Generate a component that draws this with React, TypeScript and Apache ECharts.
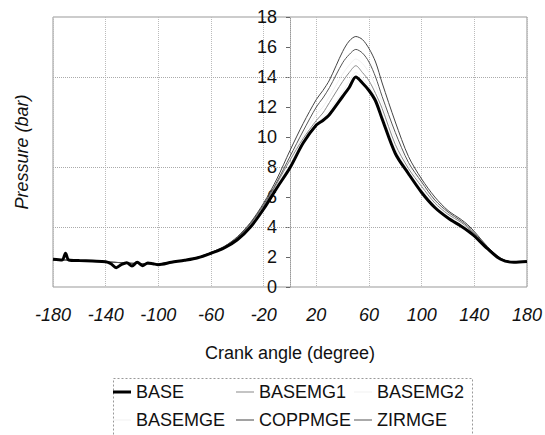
import React, { useEffect, useRef } from "react";
import * as echarts from "echarts";

const angles = [-180, -173, -170.5, -168, -160, -150, -140, -136, -132, -128, -124, -120, -116, -112, -108, -104, -100, -90, -80, -70, -60, -50, -40, -30, -20, -10, 0, 10, 20, 25, 30, 40, 45, 50, 55, 60, 65, 70, 80, 90, 100, 110, 120, 130, 135, 140, 150, 160, 170, 180];

const baseVals = [1.85, 1.8, 2.25, 1.8, 1.76, 1.73, 1.69, 1.55, 1.29, 1.5, 1.62, 1.4, 1.65, 1.42, 1.6, 1.55, 1.49, 1.65, 1.78, 1.95, 2.25, 2.6, 3.15, 4.0, 5.2, 6.6, 7.95, 9.6, 10.8, 11.1, 11.5, 12.7, 13.3, 14.0, 13.6, 13.1, 12.4, 11.2, 8.9, 7.55, 6.3, 5.3, 4.6, 4.05, 3.75, 3.4, 2.55, 1.85, 1.65, 1.7];
const basemg1Vals = [1.82, 1.8, 1.8, 1.79, 1.76, 1.72, 1.68, 1.66, 1.64, 1.62, 1.6, 1.58, 1.57, 1.56, 1.55, 1.55, 1.55, 1.64, 1.8, 1.98, 2.25, 2.65, 3.25, 4.2, 5.4, 6.9, 8.45, 9.9, 11.1, 11.6, 12.3, 13.7, 14.3, 14.75, 14.3, 13.75, 12.9, 11.9, 9.5, 7.9, 6.7, 5.6, 4.85, 4.3, 3.95, 3.5, 2.6, 1.88, 1.65, 1.7];
const basemg2Vals = [1.82, 1.8, 1.8, 1.79, 1.76, 1.72, 1.68, 1.66, 1.64, 1.62, 1.6, 1.58, 1.57, 1.56, 1.55, 1.55, 1.55, 1.64, 1.8, 1.97, 2.24, 2.62, 3.2, 4.1, 5.3, 6.75, 8.2, 9.7, 10.9, 11.3, 11.8, 13.0, 13.7, 14.3, 13.9, 13.4, 12.6, 11.5, 9.2, 7.7, 6.5, 5.45, 4.7, 4.15, 3.85, 3.45, 2.57, 1.86, 1.65, 1.7];
const basemgeVals = [1.82, 1.8, 1.8, 1.79, 1.76, 1.72, 1.68, 1.66, 1.64, 1.62, 1.6, 1.58, 1.57, 1.56, 1.55, 1.55, 1.55, 1.64, 1.8, 1.98, 2.27, 2.68, 3.3, 4.22, 5.45, 6.95, 8.55, 10.1, 11.5, 12.0, 12.7, 14.2, 14.8, 15.2, 14.9, 14.3, 13.4, 12.3, 9.9, 8.1, 6.85, 5.7, 4.92, 4.35, 4.0, 3.55, 2.62, 1.9, 1.65, 1.7];
const coppmgeVals = [1.82, 1.8, 1.8, 1.79, 1.76, 1.72, 1.68, 1.66, 1.64, 1.62, 1.6, 1.58, 1.57, 1.56, 1.55, 1.55, 1.55, 1.64, 1.8, 1.98, 2.3, 2.7, 3.35, 4.3, 5.6, 7.2, 9.1, 10.9, 12.5, 13.1, 13.8, 15.7, 16.4, 16.7, 16.5, 15.9, 15.0, 13.6, 11.0, 8.7, 7.2, 6.0, 5.1, 4.5, 4.15, 3.7, 2.7, 1.92, 1.65, 1.7];
const zirmgeVals = [1.82, 1.8, 1.8, 1.79, 1.76, 1.72, 1.68, 1.66, 1.64, 1.62, 1.6, 1.58, 1.57, 1.56, 1.55, 1.55, 1.55, 1.64, 1.8, 1.98, 2.3, 2.7, 3.3, 4.25, 5.5, 7.0, 8.7, 10.4, 12.0, 12.6, 13.3, 14.95, 15.5, 15.84, 15.6, 15.0, 14.0, 12.7, 10.3, 8.3, 7.0, 5.8, 5.0, 4.4, 4.05, 3.6, 2.65, 1.9, 1.65, 1.7];

const hGridValues = [4, 8, 14];

const FONT = "'Liberation Sans', Arial, sans-serif";

export default function App() {
  const ref = useRef<HTMLDivElement>(null);
  useEffect(() => {
    if (!ref.current) return;
    const chart = echarts.init(ref.current, undefined, { renderer: "svg" });
    const pairs = (vals: number[]) => angles.map((a, i) => [a, vals[i]]);
    const mk = (name: string, vals: number[], color: string, width: number, z: number) => ({
      name,
      type: "line",
      data: pairs(vals),
      symbol: "none",
      smooth: 0.3,
      z,
      lineStyle: { color, width },
      itemStyle: { color },
    });
    const baseSeries: any = mk("BASE", baseVals, "#000", 3, 5);
    baseSeries.markLine = {
      silent: true,
      symbol: "none",
      label: { show: false },
      lineStyle: { color: "#aaa", type: "dotted", width: 1 },
      data: hGridValues.map((v) => ({ yAxis: v })),
      z: 1,
    };
    const legendPos: Array<[string, number, number, number]> = [
      ["BASE", 113, 383, 3],
      ["BASEMG1", 236, 383, 1],
      ["BASEMG2", 354, 383, 1],
      ["BASEMGE", 113, 411, 1],
      ["COPPMGE", 236, 411, 1],
      ["ZIRMGE", 354, 411, 1],
    ];
    chart.setOption({
      animation: false,
      textStyle: { fontFamily: FONT },
      grid: {
        left: 53,
        top: 17,
        width: 474,
        height: 270,
        show: true,
        borderColor: "#999",
        borderWidth: 1,
      },
      legend: legendPos.map(([n, l, t, h]) => ({
        data: [n],
        left: l,
        top: t,
        icon: "rect",
        itemWidth: 18,
        itemHeight: h,
        padding: 0,
        textStyle: { fontFamily: FONT, fontSize: 18, color: "#111" },
      })),
      graphic: [
        {
          type: "rect",
          left: 111,
          top: 376,
          shape: { width: 359, height: 57 },
          style: { fill: "none", stroke: "#999", lineWidth: 1, lineDash: [2, 2] },
          z: 0,
        },
        {
          type: "text",
          x: 22,
          y: 152,
          rotation: Math.PI / 2,
          style: {
            text: "Pressure (bar)",
            font: "italic 18px " + FONT,
            fill: "#111",
            textAlign: "center",
            textVerticalAlign: "middle",
          },
        },
      ],
      xAxis: {
        type: "value",
        min: -180,
        max: 180,
        interval: 40,
        name: "Crank angle (degree)",
        nameLocation: "middle",
        nameGap: 57,
        nameTextStyle: { fontFamily: FONT, fontSize: 18, color: "#111" },
        axisLine: { show: false },
        axisTick: { show: false },
        axisLabel: { fontStyle: "italic", fontSize: 18, color: "#111", margin: 19, fontFamily: FONT },
        splitLine: { show: true, lineStyle: { color: "#bbb", type: "dotted" } },
      },
      yAxis: {
        type: "value",
        min: 0,
        max: 18,
        interval: 2,
        offset: -237,
        axisLine: { show: true, onZero: false, lineStyle: { color: "#999", type: "dotted" } },
        axisTick: { show: true, length: 4, lineStyle: { color: "#666" } },
        axisLabel: { fontSize: 18, color: "#111", margin: 13, fontFamily: FONT },
        splitLine: { show: false },
      },
      series: [
        baseSeries,
        mk("BASEMG1", basemg1Vals, "#888", 1, 4),
        mk("BASEMG2", basemg2Vals, "#f0f0f0", 1, 2),
        mk("BASEMGE", basemgeVals, "#f0f0f0", 1, 2),
        mk("COPPMGE", coppmgeVals, "#444", 1, 4),
        mk("ZIRMGE", zirmgeVals, "#555", 1, 4),
      ],
    });
    return () => chart.dispose();
  }, []);
  return <div ref={ref} style={{ width: 545, height: 435, position: "absolute", left: 0, top: 0 }} />;
}
